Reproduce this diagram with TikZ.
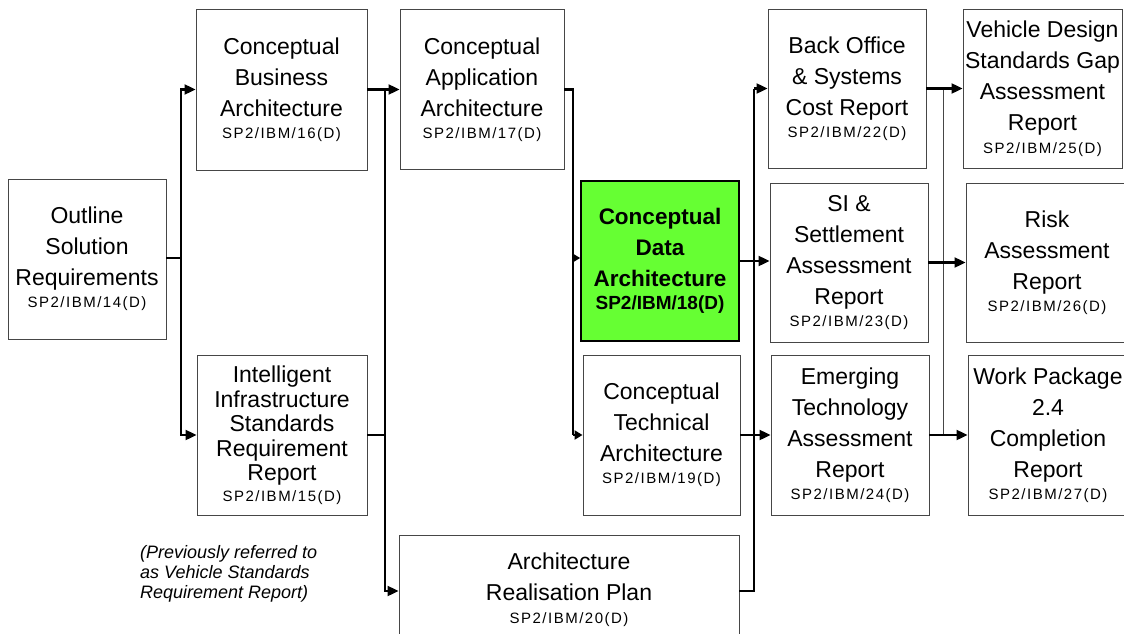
\documentclass[tikz,border=0pt]{standalone}
\usepackage{fontspec}
\setmainfont{Liberation Sans}
\newfontfamily\codefont[LetterSpace=10]{Liberation Sans}
\usetikzlibrary{arrows.meta}
\definecolor{boxline}{RGB}{70,70,70}
\definecolor{hilite}{RGB}{102,255,51}
\newcommand{\idtag}[1]{{\codefont\fontsize{15}{18}\selectfont #1}}
\tikzset{
  box/.style={draw=boxline, line width=0.9pt, fill=white, inner sep=0pt, align=center,
    font=\fontsize{23}{31}\selectfont},
  densebox/.style={box, font=\fontsize{23}{24.5}\selectfont},
  hibox/.style={box, draw=black, line width=1.6pt, fill=hilite,
    font=\bfseries\fontsize{22.5}{31}\selectfont},
  link/.style={line width=2.1pt, black},
  arrow/.style={link, -{Triangle[length=11pt,width=10pt]}},
  shortarrow/.style={link, -{Triangle[length=8pt,width=9pt]}},
  thinlink/.style={line width=0.9pt, boxline},
  note/.style={font=\itshape\fontsize{18}{20}\selectfont, align=left, inner sep=0pt, anchor=north west}
}
\begin{document}
\begin{tikzpicture}[x=1pt,y=-1pt]
\useasboundingbox (0,0) rectangle (1124,634);
% boxes
\node[box, minimum width=158, minimum height=160] (b14) at (87,259)
  {Outline\\Solution\\Requirements\\[-9pt]\idtag{SP2/IBM/14(D)}};
\node[box, minimum width=171, minimum height=161] (b16) at (281.5,89.5)
  {Conceptual\\Business\\Architecture\\[-9pt]\idtag{SP2/IBM/16(D)}};
\node[densebox, minimum width=170, minimum height=160] (b15) at (282,435)
  {Intelligent\\Infrastructure\\Standards\\Requirement\\Report\\[-4pt]\idtag{SP2/IBM/15(D)}};
\node[box, minimum width=164, minimum height=160] (b17) at (482,89.5)
  {Conceptual\\Application\\Architecture\\[-9pt]\idtag{SP2/IBM/17(D)}};
\node[hibox, minimum width=158, minimum height=160] (b18) at (660,261)
  {Conceptual\\Data\\Architecture\\[-8pt]{\fontsize{19}{22}\selectfont SP2/IBM/18(D)}};
\node[box, minimum width=157, minimum height=160] (b19) at (661.5,435)
  {Conceptual\\Technical\\Architecture\\[-9pt]\idtag{SP2/IBM/19(D)}};
\node[box, minimum width=340, minimum height=110] (b20) at (569,590)
  {Architecture\\Realisation Plan\\[-8pt]\idtag{SP2/IBM/20(D)}};
\node[box, minimum width=158, minimum height=159] (b22) at (847,88.5)
  {Back Office\\\& Systems\\Cost Report\\[-9pt]\idtag{SP2/IBM/22(D)}};
\node[box, minimum width=158, minimum height=159] (b23) at (849,262.5)
  {SI \&\\Settlement\\Assessment\\Report\\[-9pt]\idtag{SP2/IBM/23(D)}};
\node[box, minimum width=158, minimum height=160] (b24) at (850,435)
  {Emerging\\Technology\\Assessment\\Report\\[-9pt]\idtag{SP2/IBM/24(D)}};
\node[box, minimum width=159, minimum height=159] (b25) at (1042.5,88.5)
  {Vehicle Design\\Standards Gap\\Assessment\\Report\\[-8pt]\idtag{SP2/IBM/25(D)}};
\node[box, minimum width=162, minimum height=159] (b26) at (1047,262.5)
  {Risk\\Assessment\\Report\\[-9pt]\idtag{SP2/IBM/26(D)}};
\node[box, minimum width=160, minimum height=160] (b27) at (1048,435)
  {Work Package\\2.4\\Completion\\Report\\[-9pt]\idtag{SP2/IBM/27(D)}};
% note
\node[note] (nt) at (140,545)
  {(Previously referred to\\as Vehicle Standards\\Requirement Report)};
% connectors
\coordinate (j1) at (181,258);
\draw[link] (b14.east |- j1) -- (j1);
\draw[arrow] (j1) |- (b16.west);
\draw[arrow] (j1) |- (b15.west);

\coordinate (j2) at (385,89.5);
\draw[arrow] (b16.east) -- (b17.west);
\draw[link] (b15.east) -- (b15.east -| j2);
\draw[arrow] (j2) |- ([yshift=-1pt]b20.west);

\coordinate (j3) at (573,89.5);
\draw[link] (b17.east) -- (j3) -- (j3 |- b19.west);
\draw[shortarrow] ([yshift=3pt]j3 |- b18.west) -- ([yshift=3pt]b18.west);
\draw[shortarrow] (j3 |- b19.west) -- (b19.west);

\draw[arrow] (b18.east) -- (b18.east -| b23.west);

\coordinate (j4) at (754,435);
\draw[arrow] (b19.east) -- (b24.west);
\draw[link] ([yshift=-1pt]b20.east) -| (j4);
\draw[link, line width=1.3pt] (j4) -- (j4 |- b22.west);
\draw[arrow] (j4 |- b22.west) -- (b22.west);

\coordinate (j5) at (943,88.5);
\draw[thinlink] (j5) -- (j5 |- b24.east);
\draw[arrow] (b22.east) -- (b25.west);
\draw[arrow] (b23.east) -- (b23.east -| b26.west);
\draw[arrow] (b24.east) -- (b24.east -| b27.west);
\end{tikzpicture}
\end{document}
